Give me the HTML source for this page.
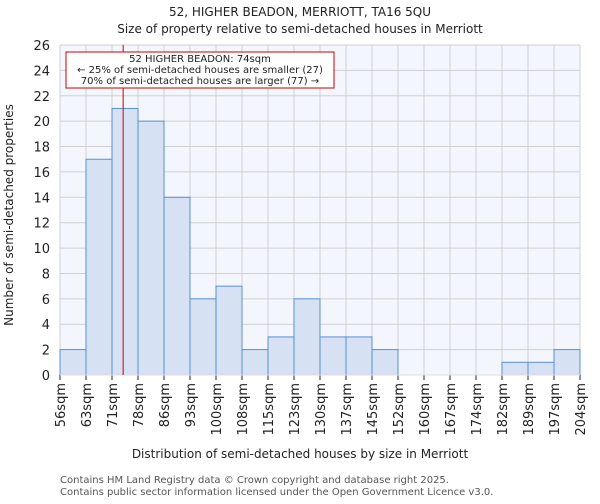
<!DOCTYPE html>
<html><head><meta charset="utf-8"><style>
body{margin:0;background:#fff;font-family:"DejaVu Sans","Liberation Sans",sans-serif}
svg text{font-family:"DejaVu Sans","Liberation Sans",sans-serif;fill:#222}
</style></head><body>
<svg id="c" width="600" height="500">
<text x="300" y="16" font-size="12" text-anchor="middle">52, HIGHER BEADON, MERRIOTT, TA16 5QU</text>
<text x="300" y="33" font-size="12" text-anchor="middle">Size of property relative to semi-detached houses in Merriott</text>
<rect x="60" y="45" width="520" height="330" fill="#f3f6fc"/>
<g id="grid"></g><g id="bars"></g><g id="axes"></g>
<text transform="translate(13,215) rotate(-90)" font-size="12" text-anchor="middle">Number of semi-detached properties</text>
<text x="300" y="458" font-size="12" text-anchor="middle">Distribution of semi-detached houses by size in Merriott</text>
<text x="60" y="483" font-size="10" style="fill:#555">Contains HM Land Registry data © Crown copyright and database right 2025.</text>
<text x="60" y="495" font-size="10" style="fill:#555">Contains public sector information licensed under the Open Government Licence v3.0.</text>
</svg>
<script>
const binLabels=["56sqm","63sqm","71sqm","78sqm","86sqm","93sqm","100sqm","108sqm","115sqm","123sqm","130sqm","137sqm","145sqm","152sqm","160sqm","167sqm","174sqm","182sqm","189sqm","197sqm","204sqm"];
const binEdges=[56,63,71,78,86,93,100,108,115,123,130,137,145,152,160,167,174,182,189,197,204];
const counts=[2,17,21,20,14,6,7,2,3,6,3,3,2,0,0,0,0,1,1,2];
const yTicks=[0,2,4,6,8,10,12,14,16,18,20,22,24,26];
const markerValue=74;
const NS="http://www.w3.org/2000/svg";
const X0=60,X1=580,Y0=375,Y1=45,YMAX=26;
const n=counts.length;
function xi(i){return X0+(X1-X0)*i/n;}
function xv(v){let i=0;while(i<n-1&&v>binEdges[i+1])i++;return xi(i)+(v-binEdges[i])/(binEdges[i+1]-binEdges[i])*(X1-X0)/n;}
function y(v){return Y0-(Y0-Y1)*v/YMAX;}
function mk(t,a,p){const e=document.createElementNS(NS,t);for(const k in a)e.setAttribute(k,a[k]);p.appendChild(e);return e;}
const grid=document.getElementById('grid'),bars=document.getElementById('bars'),axes=document.getElementById('axes');
yTicks.forEach(t=>{
 const l=mk('line',{x1:X0,x2:X1,y1:y(t),y2:y(t),stroke:'#d0d0d0'},grid);
 
 
 const tx=mk('text',{x:X0-10,y:y(t)+5,'font-size':13,'text-anchor':'end'},axes);
 tx.textContent=t;
 
 
});
binLabels.forEach((lb,i)=>{
 const l=mk('line',{x1:xi(i),x2:xi(i),y1:Y1,y2:Y0,stroke:'#d0d0d0'},grid);
 
 
 const tk=mk('line',{x1:xi(i),x2:xi(i),y1:Y0,y2:Y0+5,stroke:'#222'},axes);
 
 
 const tx=mk('text',{transform:`translate(${xi(i)+5},${Y0+8}) rotate(-90)`,'font-size':13,'text-anchor':'end'},axes);
 tx.textContent=lb;
 
 
});
counts.forEach((c,i)=>{
 if(c<=0)return;
 const r=mk('rect',{x:xi(i),y:y(c),width:xi(i+1)-xi(i),height:Y0-y(c),fill:'#d6e1f3',stroke:'#5b8fd6','stroke-width':1},bars);
 
 
});
const ax=mk('line',{x1:X0,x2:X1,y1:Y0,y2:Y0,stroke:'#ddd'},axes);


const mx=xv(markerValue);
const ml=mk('line',{x1:mx,x2:mx,y1:Y1,y2:Y0,stroke:'#cc0000','stroke-width':1},axes);


const box=mk('rect',{x:66,y:52,width:268,height:36,fill:'#fff',stroke:'#cc0000'},axes);


["52 HIGHER BEADON: 74sqm","← 25% of semi-detached houses are smaller (27)","70% of semi-detached houses are larger (77) →"].forEach((s,k)=>{
 const t=mk('text',{x:200,y:62+k*11,'font-size':10,'text-anchor':'middle'},axes);
 t.textContent=s;
 
 
});
</script>
</body></html>
